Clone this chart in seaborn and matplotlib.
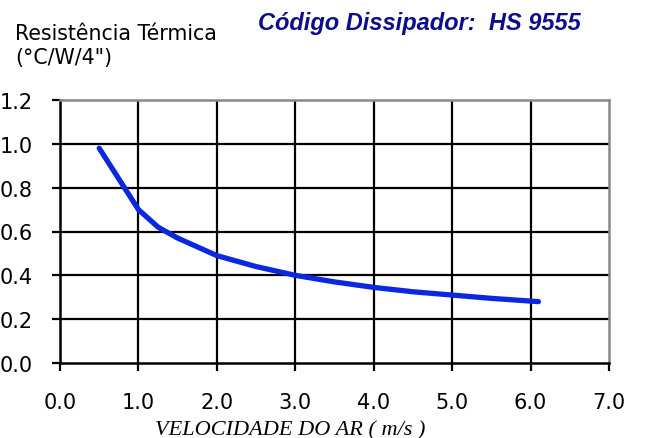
import matplotlib
matplotlib.use("Agg")
import matplotlib.pyplot as plt
import seaborn as sns
import pandas as pd

velocidade = [0.5, 0.75, 1.0, 1.25, 1.5, 2.0, 2.5, 3.0, 3.5, 4.0, 4.5, 5.0, 5.5, 6.1]
resistencia = [0.98, 0.84, 0.70, 0.62, 0.57, 0.49, 0.44, 0.40, 0.37, 0.345, 0.325, 0.31, 0.295, 0.28]
x_ticks = [0.0, 1.0, 2.0, 3.0, 4.0, 5.0, 6.0, 7.0]
y_ticks = [0.0, 0.2, 0.4, 0.6, 0.8, 1.0, 1.2]

sns.set_style("white")
plt.rcParams['font.family'] = ['DejaVu Sans']

df = pd.DataFrame({"v": velocidade, "r": resistencia})

fig = plt.figure(figsize=(6.45, 4.39), dpi=100)
ax = fig.add_axes([60/645, 1-364/439, (609-60)/645, (364-101)/439])

for xv in x_ticks[1:-1]:
    ax.axvline(xv, color="black", lw=1.6, zorder=1)
for yv in y_ticks[1:-1]:
    ax.axhline(yv, color="black", lw=1.6, zorder=1)

sns.lineplot(data=df, x="v", y="r", ax=ax, color="#0A28E0", lw=3.8, zorder=3,
             solid_capstyle="round")

ax.set_xlim(0, 7)
ax.set_ylim(0, 1.2)
ax.set_xticks(x_ticks)
ax.set_yticks(y_ticks)
ax.set_xticklabels([f"{t:.1f}" for t in x_ticks])
ax.set_yticklabels([f"{t:.1f}" for t in y_ticks])
ax.tick_params(axis="both", direction="out", length=6, width=1.6, color="black",
               labelsize=15, labelcolor="black", bottom=True, left=True)
ax.tick_params(axis="y", pad=13.5)
ax.tick_params(axis="x", pad=15)
ax.set_xlabel("")
ax.set_ylabel("")

for s in ["left", "bottom"]:
    ax.spines[s].set_color("black")
    ax.spines[s].set_linewidth(1.8)
for s in ["top", "right"]:
    ax.spines[s].set_color("#888888")
    ax.spines[s].set_linewidth(1.8)

fig.text(15/645, 1-40/439, "Resistência Térmica", fontsize=14.8, va="baseline", ha="left",
         color="black")
fig.text(15/645, 1-64/439, "(°C/W/4\")", fontsize=14.8, va="baseline", ha="left",
         color="black")
fig.text(258/645, 1-30/439, "Código Dissipador:  HS 9555", fontsize=17,
         family="Liberation Sans", weight="bold", style="italic", color="#0C0C8E",
         va="baseline", ha="left")
fig.text(155/645, 1-435/439, "VELOCIDADE DO AR ( m/s )", fontsize=16,
         family="Liberation Serif", style="italic", color="black", va="baseline", ha="left")

fig.savefig("out.png", dpi=100)
